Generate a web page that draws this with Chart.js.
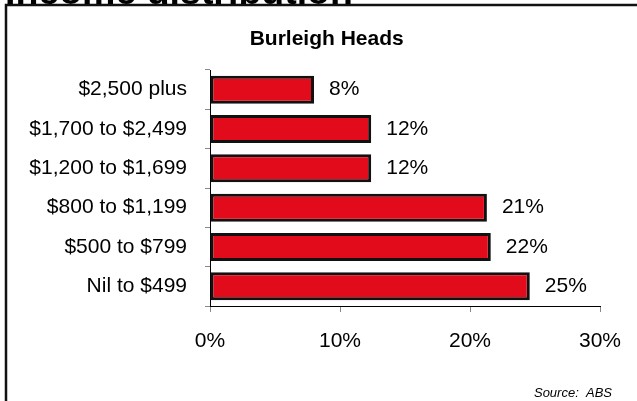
<!DOCTYPE html>
<html>
<head>
<meta charset="utf-8">
<script src="https://cdn.jsdelivr.net/npm/chart.js@4"></script>
<style>
html,body{margin:0;padding:0;background:#fff;}
canvas{display:block;}
</style>
</head>
<body>
<canvas id="c" width="637" height="401"></canvas>
<script>
const categories = ["$2,500 plus", "$1,700 to $2,499", "$1,200 to $1,699", "$800 to $1,199", "$500 to $799", "Nil to $499"];
const values = [8.0, 12.4, 12.4, 21.3, 21.6, 24.6];
const chartTitle = "Burleigh Heads";
const headerText = "Income distribution";
const sourceText = "Source:  ABS";
const xMin = 0, xMax = 30, xStep = 10;

const FONT = "'Liberation Sans', Arial, sans-serif";
Chart.defaults.font.family = FONT;
Chart.defaults.color = '#000';

const decor = {
  id: 'decor',
  beforeDraw(chart) {
    const ctx = chart.ctx;
    ctx.save();
    ctx.fillStyle = '#fff';
    ctx.fillRect(0, 0, chart.width, chart.height);
    ctx.restore();
  },
  afterDraw(chart) {
    const ctx = chart.ctx;
    ctx.save();
    ctx.strokeStyle = '#111';
    ctx.lineWidth = 2.5;
    ctx.beginPath();
    ctx.moveTo(6, chart.height + 2);
    ctx.lineTo(6, 5);
    ctx.lineTo(chart.width + 2, 5);
    ctx.stroke();
    ctx.fillStyle = '#000';
    ctx.font = "bold 37.5px " + FONT;
    ctx.textAlign = 'left';
    ctx.textBaseline = 'alphabetic';
    ctx.fillText(headerText, 5, 3.5);
    ctx.font = "italic 13px 'Liberation Sans Narrow', 'Arial Narrow', " + FONT;
    ctx.textAlign = 'right';
    ctx.fillText(sourceText, 612, 396.5);
    ctx.restore();
  }
};

const valueLabels = {
  id: 'valueLabels',
  afterDatasetsDraw(chart) {
    const ctx = chart.ctx;
    const meta = chart.getDatasetMeta(0);
    ctx.save();
    ctx.fillStyle = '#000';
    ctx.font = "21px " + FONT;
    ctx.textAlign = 'left';
    ctx.textBaseline = 'middle';
    meta.data.forEach((bar, i) => {
      ctx.fillText(Math.round(values[i]) + '%', bar.x + 15, bar.y);
    });
    ctx.restore();
  }
};

new Chart(document.getElementById('c'), {
  type: 'bar',
  data: {
    labels: categories,
    datasets: [{
      data: values,
      backgroundColor: '#e20b1b',
      borderColor: '#111',
      borderWidth: 3,
      borderSkipped: false,
      barPercentage: 0.71,
      categoryPercentage: 1.0
    }]
  },
  options: {
    indexAxis: 'y',
    responsive: false,
    animation: false,
    devicePixelRatio: 1,
    layout: { padding: { left: 20, right: 3.6, top: 0, bottom: 47 } },
    plugins: {
      legend: { display: false },
      tooltip: { enabled: false },
      title: {
        display: true,
        text: chartTitle,
        color: '#000',
        font: { size: 21, weight: 'bold', lineHeight: 1.2 },
        padding: { top: 26.8, bottom: 18 }
      }
    },
    scales: {
      x: {
        min: xMin, max: xMax,
        ticks: {
          stepSize: xStep,
          color: '#000',
          font: { size: 21, lineHeight: 1.2 },
          padding: 17,
          maxRotation: 0,
          callback: (v) => v + '%'
        },
        grid: { display: true, drawOnChartArea: false, drawTicks: true, tickLength: 6, color: '#888' },
        border: { display: true, color: '#000', width: 1 },
        afterFit(s) { s.height = 48; s.paddingLeft = 0; s.paddingRight = 37; }
      },
      y: {
        ticks: {
          color: '#000',
          font: { size: 21, lineHeight: 1.2 },
          padding: 18
        },
        grid: { display: true, drawOnChartArea: false, drawTicks: true, tickLength: 5, color: '#888', offset: true },
        border: { display: true, color: '#000', width: 1 },
        afterFit(s) { s.width = 190; s.paddingTop = 0; s.paddingBottom = 0; }
      }
    }
  },
  plugins: [decor, valueLabels]
});
</script>
</body>
</html>
